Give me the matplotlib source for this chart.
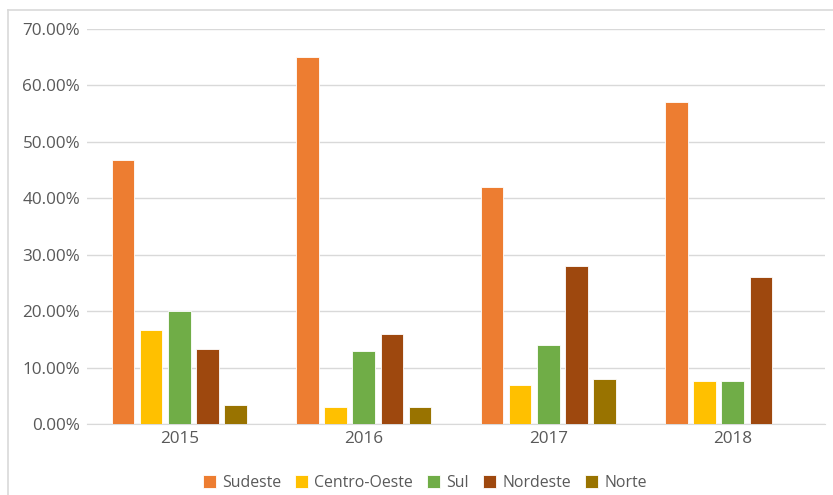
import matplotlib
matplotlib.use("Agg")
import matplotlib.pyplot as plt
from matplotlib.lines import Line2D
from matplotlib.ticker import FuncFormatter
import numpy as np

years = ["2015", "2016", "2017", "2018"]
series = ["Sudeste", "Centro-Oeste", "Sul", "Nordeste", "Norte"]
sudeste = [46.8, 65.0, 42.0, 57.0]
centro_oeste = [16.7, 3.0, 7.0, 7.7]
sul = [20.0, 13.0, 14.0, 7.7]
nordeste = [13.3, 16.0, 28.0, 26.1]
norte = [3.3, 3.0, 8.0, 0.0]
colors = ["#ED7D31", "#FFC000", "#70AD47", "#9E480E", "#997300"]

plt.rcParams['font.family'] = ['Open Sans', 'DejaVu Sans']
fig = plt.figure(figsize=(8.33, 4.95), dpi=100)
ax = fig.add_axes([87/833, 1-424/495, (825-87)/833, (424-29)/495])

x = np.arange(len(years))
step = 0.153
width = 0.122
data = [sudeste, centro_oeste, sul, nordeste, norte]
for j, (name, vals) in enumerate(zip(series, data)):
    ax.bar(x + (j-2)*step, vals, width, color=colors[j], label=name,
           edgecolor="white", linewidth=0.6, zorder=3)

ax.set_xlim(-0.5, 3.5)
ax.set_ylim(0, 70)
ax.set_yticks(np.arange(0, 71, 10))
ax.yaxis.set_major_formatter(FuncFormatter(lambda v, p: f"{v:.2f}%"))
ax.set_xticks(x)
ax.set_xticklabels(years)
ax.grid(axis='y', color="#D9D9D9", linewidth=1, zorder=0)
for s in ["top", "right", "left"]:
    ax.spines[s].set_visible(False)
ax.spines["bottom"].set_color("#D9D9D9")
ax.tick_params(axis='both', length=0, labelsize=12.3, labelcolor="#595959")
ax.tick_params(axis='y', pad=5)
ax.tick_params(axis='x', pad=5)

leg = fig.legend(loc="center", bbox_to_anchor=(0.51, 1-483/495), ncol=5,
                 frameon=False, fontsize=11.4, handlelength=0.8, handleheight=0.8,
                 columnspacing=0.9, handletextpad=0.4)
for t in leg.get_texts():
    t.set_color("#595959")

fig.add_artist(Line2D([8/833, 1], [1-10/495, 1-10/495], color="#D9D9D9", lw=1.2, transform=fig.transFigure))
fig.add_artist(Line2D([8/833, 8/833], [0, 1-10/495], color="#D9D9D9", lw=1.2, transform=fig.transFigure))

fig.savefig("out.png", dpi=100)
